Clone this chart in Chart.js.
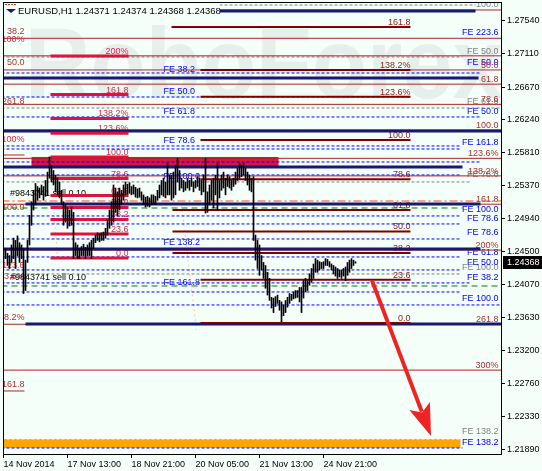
<!DOCTYPE html>
<html><head><meta charset="utf-8">
<script src="https://cdn.jsdelivr.net/npm/chart.js@4.4.0/dist/chart.umd.min.js"></script>
<style>html,body{margin:0;padding:0;background:#F5FFFA;}canvas{display:block}</style>
</head><body>
<canvas id="c" width="542" height="471"></canvas>
<script>
// ---------- DATA ----------
const xTickIndex = [0, 32, 64, 96, 128, 160];
const xTickLabels = ["14 Nov 2014", "17 Nov 13:00", "18 Nov 21:00", "20 Nov 05:00", "21 Nov 13:00", "24 Nov 21:00"];
const yTickValues = [1.27540, 1.27110, 1.26670, 1.26240, 1.25810, 1.25370, 1.24940, 1.24500, 1.24070, 1.23630, 1.23200, 1.22760, 1.22330, 1.21890];
const titleText = "EURUSD,H1 1.24371 1.24374 1.24368 1.24368";
const watermarkText = "RoboForex";
const lastPrice = 1.24368;

const barHigh = [1.2451,1.2454,1.2448,1.2445,1.2459,1.2468,1.2465,1.2471,1.2462,1.2459,
1.2454,1.2439,1.2465,1.2498,1.2516,1.2531,1.2540,1.2536,1.2534,1.2538,
1.2536,1.2544,1.2555,1.2575,1.2564,1.2557,1.2551,1.2547,1.2542,1.2531,
1.2516,1.2512,1.2508,1.2505,1.2509,1.2502,1.2462,1.2459,1.2454,1.2457,
1.2460,1.2456,1.2459,1.2462,1.2465,1.2468,1.2472,1.2475,1.2474,1.2475,
1.2476,1.2481,1.2492,1.2505,1.2516,1.2538,1.2534,1.2529,1.2534,1.2531,
1.2538,1.2542,1.2539,1.2541,1.2536,1.2538,1.2535,1.2533,1.2534,1.2529,
1.2525,1.2522,1.2523,1.2521,1.2525,1.2525,1.2523,1.2531,1.2538,1.2544,
1.2547,1.2542,1.2567,1.2551,1.2551,1.2555,1.2564,1.2573,1.2557,1.2547,
1.2544,1.2542,1.2547,1.2544,1.2547,1.2542,1.2544,1.2549,1.2547,1.2544,
1.2551,1.2573,1.2529,1.2538,1.2544,1.2547,1.2551,1.2567,1.2544,1.2551,
1.2555,1.2547,1.2551,1.2549,1.2544,1.2547,1.2555,1.2560,1.2567,1.2564,
1.2567,1.2560,1.2555,1.2551,1.2547,1.2549,1.2472,1.2465,1.2459,1.2445,
1.2436,1.2432,1.2423,1.2415,1.2390,1.2389,1.2391,1.2393,1.2386,1.2384,
1.2380,1.2386,1.2390,1.2395,1.2394,1.2397,1.2399,1.2399,1.2403,1.2403,
1.2412,1.2415,1.2412,1.2421,1.2428,1.2434,1.2441,1.2439,1.2437,1.2436,
1.2437,1.2441,1.2440,1.2437,1.2434,1.2432,1.2430,1.2428,1.2426,1.2426,
1.2428,1.2430,1.2436,1.2439,1.2441,1.2439,1.2437];
const barLow = [1.2436,1.2441,1.2432,1.2428,1.2436,1.2441,1.2428,1.2445,1.2436,1.2441,
1.2395,1.2399,1.2436,1.2459,1.2485,1.2505,1.2512,1.2518,1.2521,1.2525,
1.2518,1.2523,1.2525,1.2547,1.2542,1.2538,1.2529,1.2525,1.2521,1.2512,
1.2485,1.2489,1.2481,1.2484,1.2485,1.2441,1.2445,1.2441,1.2441,1.2445,
1.2445,1.2441,1.2445,1.2445,1.2441,1.2454,1.2462,1.2465,1.2463,1.2465,
1.2465,1.2468,1.2472,1.2481,1.2485,1.2489,1.2502,1.2498,1.2505,1.2512,
1.2518,1.2525,1.2526,1.2527,1.2525,1.2526,1.2522,1.2521,1.2522,1.2518,
1.2512,1.2509,1.2510,1.2509,1.2512,1.2513,1.2512,1.2518,1.2521,1.2525,
1.2523,1.2521,1.2525,1.2525,1.2518,1.2521,1.2525,1.2542,1.2531,1.2534,
1.2529,1.2531,1.2534,1.2531,1.2536,1.2529,1.2534,1.2536,1.2531,1.2525,
1.2529,1.2501,1.2502,1.2512,1.2518,1.2508,1.2525,1.2505,1.2521,1.2531,
1.2534,1.2525,1.2536,1.2534,1.2531,1.2536,1.2539,1.2544,1.2547,1.2549,
1.2551,1.2544,1.2538,1.2531,1.2529,1.2465,1.2439,1.2428,1.2419,1.2426,
1.2415,1.2402,1.2393,1.2386,1.2376,1.2370,1.2378,1.2382,1.2373,1.2358,
1.2366,1.2370,1.2377,1.2382,1.2386,1.2388,1.2389,1.2390,1.2384,1.2370,
1.2389,1.2397,1.2399,1.2406,1.2410,1.2415,1.2423,1.2423,1.2426,1.2428,
1.2428,1.2432,1.2432,1.2430,1.2426,1.2421,1.2418,1.2415,1.2417,1.2415,
1.2418,1.2412,1.2419,1.2423,1.2428,1.2432,1.2435];

// Fibonacci retracement A (dark red)
const fiboAName  = ["0.0","23.6","38.2","50.0","61.8","78.6","100.0","123.6%","138.2%","161.8"];
const fiboAPrice = [1.23563,1.24132,1.24484,1.24768,1.25052,1.25457,1.25973,1.26542,1.26894,1.27462];
const fiboAStart = [98.5,98.5,84.5,84.5,84.5,98.5,98.5,98.5,98.5,84];
const fiboAEnd = 203.5;
// Fibonacci retracement B (crimson, left)
const fiboBName  = ["0.0","23.6","38.2","50.0","61.8","78.6","100.0","123.6%","138.2%","161.8","200%"];
const fiboBPrice = [1.24419,1.24733,1.24927,1.25084,1.25241,1.25464,1.25749,1.26063,1.26257,1.26571,1.27079];
const fiboBStart = 23.5, fiboBEnd = 62.5;
// Fibonacci levels C (thin brown, full width)
const fiboCName  = ["","","","50.0","61.8","78.6","100.0","123.6%","138.2%","161.8","200%","261.8","300%"];
const fiboCPrice = [1.27685,1.27312,1.27081,1.26895,1.26708,1.26442,1.26104,1.25731,1.25500,1.25127,1.24523,1.23546,1.22942];
const rightLabelAt = 247.5;

// horizontal levels
const navyPrice = [1.27672,1.26789,1.26091,1.25617,1.25130,1.24537,1.23550];
const navyStart = [0,0,0,0,11,0,11];
const navyEnd   = [236,237.5,249,229.5,238.5,238.5,249];
const bluePrice = [1.26855,1.26539,1.26276,1.25894,1.25854,1.25683,1.25512,1.24972,1.24867,1.24669,1.24432,1.24261,1.24090,1.23971,1.23800,1.21916];
const blueEnd   = [238.5,203.5,238.5,228.5,228.5,238.5,228.5,228.5,228.5,228.5,228.5,228.5,233.5,228.5,249,229.5];
const grayPrice = [1.27751,1.27066,1.26394,1.25420,1.24208];
const grayStart = [108,0,0,0,0];
const grayEnd   = [236,229.5,249,233.5,228.5];
const whitePrice = [1.22035];
const dashDotPrice = [1.25169];
const greenPrice = [1.25077,1.24050];
const greenEnd   = [229.5,249];
const shortSegPrice = [1.25775,1.22667];
const peachSegs = [[25,1.25090,27,1.24432],[89,1.25117,96.5,1.23470]];

// text labels
const rightBlueText  = ["FE 223.6","FE 50.0","FE 50.0","FE 161.8","FE 100.0","FE 78.6","FE 78.6","FE 61.8","FE 50.0","FE 38.2","FE 100.0","FE 138.2"];
const rightBluePrice = [1.27382,1.26987,1.26342,1.25933,1.25051,1.24932,1.24748,1.24485,1.24353,1.24155,1.23879,1.21982];
const rightGrayText  = ["100.0","FE 50.0","FE 61.8","FE 78.6","FE 100.0","FE 138.2"];
const rightGrayPrice = [1.27751,1.27132,1.26473,1.25512,1.24287,1.22127];
const leftFEText  = ["FE 38.2","FE 50.0","FE 61.8","FE 78.6","FE 100.0","FE 138.2","FE 161.8"];
const leftFEPrice = [1.26895,1.26605,1.26342,1.25960,1.25486,1.24616,1.24090];
const leftFEAt = 80;
const edgeBrownText  = ["38.2","50.0","261.8","100.0","138.2%","161.8"];
const edgeBrownPrice = [1.27395,1.26987,1.26473,1.25077,1.23629,1.22746];
const edgeRedText  = ["100%","100%","123.6","123.6%"];
const edgeRedPrice = [1.27290,1.25973,1.24313,1.24168];
const edgeAt = 10.5;
const orderText  = ["#9843741 sell 0.10","#9843741 sell 0.10"];
const orderPrice = [1.25262,1.24155];
const orderAt = 3.25;

const zoneCrimson = [14,137.5,1.25617,1.25749];
const zoneOrange  = [0,228.5,1.21916,1.22035];
const arrowFrom = [184.25,1.2412];
const arrowTo   = [213.75,1.22075];

// ---------- STYLE ----------
const BG = '#F5FFFA';
const FONT = "'Liberation Sans', Arial, sans-serif";
const C = {maroon:'#800000', maroonTxt:'#8B1A1A', crimson:'#DC143C', crimsonTxt:'#E0284A',
  brown:'#B22222', brownTxt:'#B03030', navy:'#191970', blue:'#0000FF', gray:'#808080',
  green:'#008000', orangeRed:'#FF4500', peach:'#F5C8A0', orange:'#FFA500'};

const datasets = [];
function hline(p, x1, x2, color, w, dash, order){
  datasets.push({type:'line', data:[{x:x1,y:p},{x:x2,y:p}], borderColor:color, borderWidth:w,
    borderDash:dash||[], pointRadius:0, fill:false, order:order, tension:0});
}
bluePrice.forEach((p,i)=>hline(p,-1,blueEnd[i],C.blue,1,[3,2],7));
grayPrice.forEach((p,i)=>hline(p,grayStart[i]===0?-1:grayStart[i],grayEnd[i],C.gray,1,[3,2],7));
whitePrice.forEach(p=>hline(p,-1,zoneOrange[1]+1,'#FFFFFF',1,[3,2],7));
greenPrice.forEach((p,i)=>hline(p,-1,greenEnd[i],C.green,1,[6,4],7));
dashDotPrice.forEach(p=>hline(p,-1,250,C.orangeRed,1,[8,3,2,3],7));
fiboCPrice.forEach(p=>hline(p,-1,250,C.brown,1,[],6));
shortSegPrice.forEach(p=>hline(p,-1,edgeAt,C.brown,1,[],6));
navyPrice.forEach((p,i)=>hline(p,navyStart[i]===0?-1:navyStart[i],navyEnd[i],C.navy,3,[],5));
fiboAPrice.forEach((p,i)=>hline(p,fiboAStart[i],fiboAEnd,C.maroon,2,[],4));
fiboBPrice.forEach(p=>hline(p,fiboBStart,fiboBEnd,C.crimson,3,[],4));
peachSegs.forEach(s=>datasets.push({type:'line',data:[{x:s[0],y:s[1]},{x:s[2],y:s[3]}],borderColor:C.peach,borderWidth:1,borderDash:[2,3],pointRadius:0,order:8}));
datasets.push({type:'bar', data:barHigh.map((h,i)=>({x:i,y:[barLow[i],h]})), backgroundColor:'#000000',
  borderWidth:0, barThickness:1, order:0, grouped:false});

function txt(ctx,s,x,y,color,align,base,font){
  ctx.font = font || ("9px "+FONT); ctx.fillStyle=color; ctx.textAlign=align||'left';
  ctx.textBaseline=base||'middle'; ctx.fillText(s,x,y);
}

const deco = {
  id:'deco',
  beforeDraw(c){ const ctx=c.ctx; ctx.save(); ctx.fillStyle=BG; ctx.fillRect(0,0,c.width,c.height); ctx.restore(); },
  beforeDatasetsDraw(c){
    const ctx=c.ctx, X=c.scales.x, Y=c.scales.y, a=c.chartArea;
    const fx=v=>X.getPixelForValue(v), fy=v=>Y.getPixelForValue(v);
    ctx.save();
    ctx.beginPath(); ctx.rect(a.left,a.top,a.right-a.left,a.bottom-a.top); ctx.clip();
    // watermark
    ctx.font = "bold 100px "+FONT; ctx.fillStyle='#E7EFEC'; ctx.textAlign='left'; ctx.textBaseline='alphabetic';
    ctx.fillText(watermarkText, 25, 98, 478);
    // zones
    ctx.fillStyle=C.crimson;
    ctx.fillRect(fx(zoneCrimson[0]),fy(zoneCrimson[3]),fx(zoneCrimson[1])-fx(zoneCrimson[0]),fy(zoneCrimson[2])-fy(zoneCrimson[3]));
    ctx.fillStyle=C.orange;
    ctx.fillRect(a.left,fy(zoneOrange[3]),fx(zoneOrange[1])-a.left,fy(zoneOrange[2])-fy(zoneOrange[3]));
    // labels
    fiboAName.forEach((s,i)=>txt(ctx,s,fx(fiboAEnd),fy(fiboAPrice[i])-2,C.maroonTxt,'right','alphabetic'));
    fiboBName.forEach((s,i)=>txt(ctx,s,fx(fiboBEnd),fy(fiboBPrice[i])-2,C.crimsonTxt,'right','alphabetic'));
    rightGrayText.forEach((s,i)=>txt(ctx,s,fx(rightLabelAt),fy(rightGrayPrice[i]),C.gray,'right'));
    rightBlueText.forEach((s,i)=>txt(ctx,s,fx(rightLabelAt),fy(rightBluePrice[i]),C.blue,'right'));
    fiboCName.forEach((s,i)=>{ if(s) txt(ctx,s,fx(rightLabelAt),fy(fiboCPrice[i])-2,C.brownTxt,'right','alphabetic'); });
    leftFEText.forEach((s,i)=>txt(ctx,s,fx(leftFEAt),fy(leftFEPrice[i]),C.blue,'left'));
    edgeBrownText.forEach((s,i)=>txt(ctx,s,fx(edgeAt),fy(edgeBrownPrice[i]),C.brownTxt,'right'));
    edgeRedText.forEach((s,i)=>txt(ctx,s,fx(edgeAt),fy(edgeRedPrice[i]),C.crimsonTxt,'right'));
    orderText.forEach((s,i)=>txt(ctx,s,fx(orderAt),fy(orderPrice[i]),'#000000','left'));
    ctx.restore();
  },
  afterDatasetsDraw(c){
    const ctx=c.ctx, X=c.scales.x, Y=c.scales.y, a=c.chartArea;
    const fx=v=>X.getPixelForValue(v), fy=v=>Y.getPixelForValue(v);
    ctx.save();
    // arrow
    const x0=fx(arrowFrom[0]), y0=fy(arrowFrom[1]), x1=fx(arrowTo[0]), y1=fy(arrowTo[1]);
    const L=Math.hypot(x1-x0,y1-y0), ux=(x1-x0)/L, uy=(y1-y0)/L;
    const hl=32, hw=11, bx=x1-ux*hl, by=y1-uy*hl;
    ctx.strokeStyle='#EE2424'; ctx.fillStyle='#EE2424'; ctx.lineWidth=4;
    ctx.beginPath(); ctx.moveTo(x0,y0); ctx.lineTo(bx+ux*6,by+uy*6); ctx.stroke();
    ctx.beginPath(); ctx.moveTo(x1,y1); ctx.lineTo(bx+uy*hw,by-ux*hw); ctx.lineTo(bx+ux*7,by+uy*7);
    ctx.lineTo(bx-uy*hw,by+ux*hw); ctx.closePath(); ctx.fill();
    // title
    ctx.fillStyle=BG; ctx.fillRect(a.left+1,a.top+1,216,14);
    txt(ctx,titleText,18,11,'#000000','left','middle',"9.5px "+FONT);
    ctx.fillStyle='#1A1A5A'; ctx.beginPath(); ctx.moveTo(6,9); ctx.lineTo(16,9); ctx.lineTo(11,13); ctx.closePath(); ctx.fill();
    ctx.strokeStyle='#E03030'; ctx.lineWidth=1; ctx.setLineDash([2,1]);
    ctx.beginPath(); ctx.moveTo(5,4.5); ctx.lineTo(16,4.5); ctx.stroke(); ctx.setLineDash([]);
    // frame
    ctx.strokeStyle='#000000'; ctx.lineWidth=1;
    ctx.strokeRect(a.left+0.5,a.top+0.5,a.right-a.left,a.bottom-a.top);
    // price box
    const py=fy(lastPrice);
    ctx.fillStyle='#000000'; ctx.fillRect(a.right+2,Math.round(py)-6,40,13);
    txt(ctx,lastPrice.toFixed(5),a.right+6,Math.round(py)+0.5,'#FFFFFF','left','middle',"9px "+FONT);
    ctx.restore();
  }
};

new Chart(document.getElementById('c'), {
  type:'bar',
  data:{datasets},
  options:{
    responsive:false, animation:false, events:[], devicePixelRatio:1,
    layout:{padding:{left:3,top:2,right:0,bottom:0}},
    plugins:{legend:{display:false}, tooltip:{enabled:false}},
    scales:{
      x:{type:'linear', min:-0.25, max:248.75, offset:false,
        afterBuildTicks:s=>{s.ticks=xTickIndex.map(v=>({value:v}));},
        afterFit:s=>{s.height=17; s.paddingLeft=0; s.paddingRight=0;},
        ticks:{autoSkip:false, maxRotation:0, minRotation:0, align:'start', padding:1, color:'#000',
          font:{family:FONT, size:9}, callback:(v,i)=>xTickLabels[i]},
        grid:{offset:false, drawOnChartArea:false, drawTicks:true, tickLength:4, color:'#000'},
        border:{display:false}},
      y:{type:'linear', position:'right', min:1.21837, max:1.27790, beginAtZero:false,
        afterBuildTicks:s=>{s.ticks=yTickValues.map(v=>({value:v}));},
        afterFit:s=>{s.width=41; s.paddingTop=0; s.paddingBottom=0;},
        ticks:{autoSkip:false, padding:2, color:'#000', font:{family:FONT, size:9}, callback:v=>Number(v).toFixed(5)},
        grid:{drawOnChartArea:false, drawTicks:true, tickLength:4, color:'#000'},
        border:{display:false}}
    }
  },
  plugins:[deco]
});
</script>
</body></html>
